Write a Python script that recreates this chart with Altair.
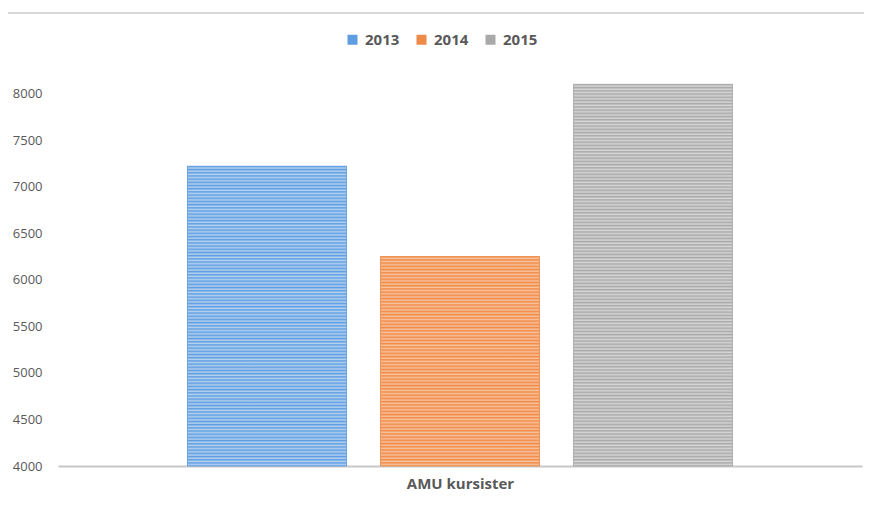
import altair as alt
import pandas as pd

category = ["AMU kursister"]
years = ["2013", "2014", "2015"]
values = [7220, 6250, 8100]

dark = {"2013": "#5f9de0", "2014": "#f08a48", "2015": "#a9a9a9"}
light = {"2013": "#b3d2f2", "2014": "#f8c29c", "2015": "#d6d6d6"}

df = pd.DataFrame({"cat": category * 3, "year": years, "value": values})

Y_MIN, Y_MAX = 4000, 8200
H = 391
W = 804
PERIOD = 3.2


def stripes(c1, c2, n):
    stops = []
    for i in range(n):
        stops += [
            alt.GradientStop(offset=i / n, color=c1),
            alt.GradientStop(offset=(i + 0.6) / n, color=c2),
        ]
    stops.append(alt.GradientStop(offset=1, color=c1))
    return alt.LinearGradient(gradient="linear", stops=stops, x1=0, x2=0, y1=0, y2=1)


x_enc = alt.X("cat:N", title="AMU kursister",
              scale=alt.Scale(paddingInner=0, paddingOuter=0.2376),
              axis=alt.Axis(labels=False, ticks=False, domainColor="#c8c8c8",
                            domainWidth=2, titleFontSize=15, titleFont="Open Sans",
                            titleFontWeight="bold", titleColor="#595959", titlePadding=10))
xo_enc = alt.XOffset("year:N", scale=alt.Scale(domain=years, paddingInner=0.176, paddingOuter=0))
y_enc = alt.Y("value:Q", title=None,
              scale=alt.Scale(domain=[Y_MIN, Y_MAX], nice=False, zero=False),
              axis=alt.Axis(values=list(range(4000, 8001, 500)), grid=False, domain=False,
                            ticks=False, labelPadding=16, labelFontSize=13,
                            labelFont="Open Sans", labelColor="#595959", format="d"))
y2_enc = alt.Y2(datum=Y_MIN)

base = alt.Chart(df).mark_bar().encode(
    x=x_enc, xOffset=xo_enc, y=y_enc, y2=y2_enc,
    color=alt.Color("year:N", scale=alt.Scale(domain=years, range=[dark[y] for y in years]),
                    legend=alt.Legend(title=None, orient="none", legendX=287, legendY=-43,
                                      direction="horizontal", symbolType="square",
                                      symbolSize=100, symbolStrokeWidth=0,
                                      labelFontSize=15, labelFont="Open Sans",
                                      labelFontWeight="bold", labelColor="#595959",
                                      columnPadding=14, labelOffset=5)),
)

layers = [base]
for yr, v in zip(years, values):
    n = max(1, round((v - Y_MIN) / (Y_MAX - Y_MIN) * H / PERIOD))
    layers.append(
        alt.Chart(df).transform_filter(alt.datum.year == yr)
        .mark_bar(fill=stripes(dark[yr], light[yr], n), stroke=dark[yr], strokeWidth=0.8)
        .encode(x=x_enc, xOffset=xo_enc, y=y_enc, y2=y2_enc)
    )

top_line = alt.Chart(df).mark_rule(color="#d9d9d9", strokeWidth=2).encode(
    x=alt.value(-52), x2=alt.value(W + 2), y=alt.value(-62)
)
layers.append(top_line)

chart = alt.layer(*layers).properties(
    width=W, height=H,
    autosize=alt.AutoSizeParams(type="none"),
    padding={"left": 50, "top": 67, "right": 2, "bottom": 30},
).configure_view(stroke=None)

chart.save("out.html", embed_options={"renderer": "svg", "actions": False})
